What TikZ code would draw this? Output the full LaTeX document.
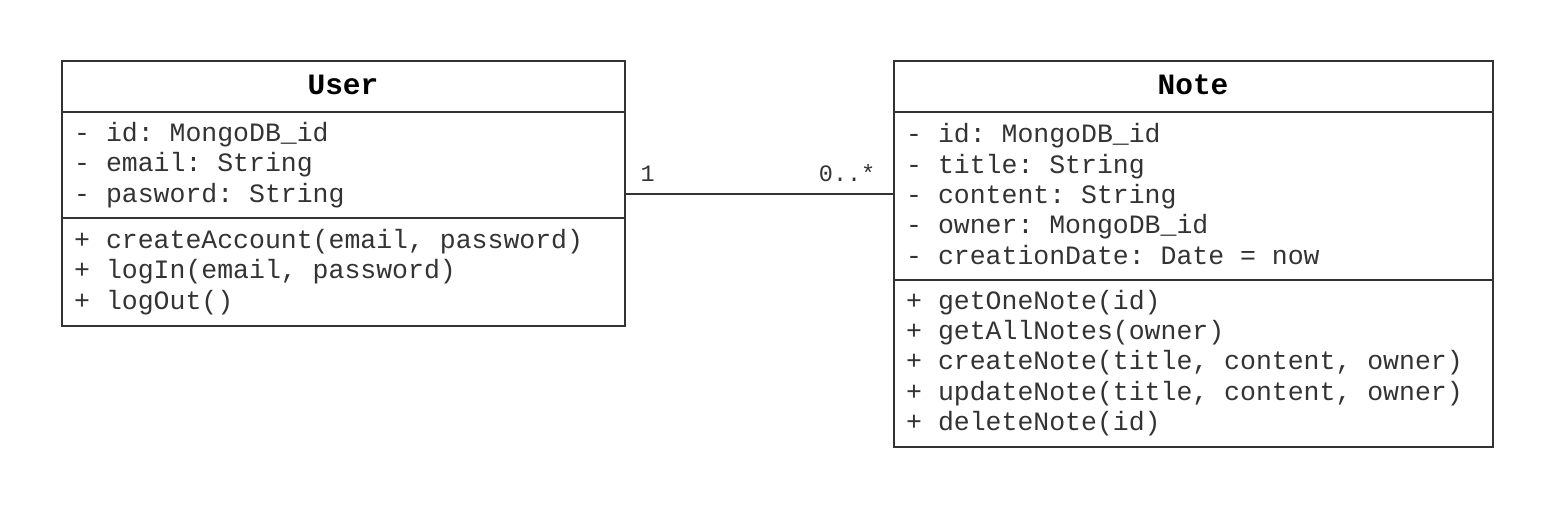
\documentclass[tikz,border=0pt]{standalone}
\usepackage{fontspec}
\setmonofont{Liberation Mono}
\usetikzlibrary{positioning,calc}
\definecolor{ink}{HTML}{333333}
\tikzset{
  comp/.style={draw=ink, line width=2pt, rectangle, anchor=north west, inner sep=0pt},
  title/.style={font=\ttfamily\bfseries\fontsize{29.5}{32}\selectfont, text=black},
  body/.style={font=\ttfamily\fontsize{26.5}{30.3}\selectfont, text=ink, align=left, anchor=west, inner sep=0pt},
  mult/.style={font=\ttfamily\fontsize{23.5}{26}\selectfont, text=ink, inner sep=0pt},
  assoc/.style={draw=ink, line width=2pt}
}
\begin{document}
\begin{tikzpicture}[x=1pt,y=-1pt]
\useasboundingbox (0,0) rectangle (1558,508);
\fill[white] (0,0) rectangle (1558,508);
% User class
\node[comp, minimum width=563pt, minimum height=51pt] (uhead) at (60.5,60.5) {};
\node[comp, minimum width=563pt, minimum height=105pt] (uattr) at (60.5,111.5) {};
\node[comp, minimum width=563pt, minimum height=108pt] (umeth) at (60.5,216.5) {};
\node[title] (utitle) at ([yshift=2.5pt]uhead.center) {User};
\node[body] (uattrtext) at (74,165) {- id: MongoDB\_id\\- email: String\\- pasword: String};
\node[body] (umethtext) at (74,272) {+ createAccount(email, password)\\+ logIn(email, password)\\+ logOut()};
% Note class
\node[comp, minimum width=599pt, minimum height=51pt] (nhead) at (892.5,60.5) {};
\node[comp, minimum width=599pt, minimum height=167pt] (nattr) at (892.5,111.5) {};
\node[comp, minimum width=599pt, minimum height=167pt] (nmeth) at (892.5,278.5) {};
\node[title] (ntitle) at ([yshift=2.5pt]nhead.center) {Note};
\node[body] (nattrtext) at (906,194) {- id: MongoDB\_id\\- title: String\\- content: String\\- owner: MongoDB\_id\\- creationDate: Date = now};
\node[body] (nmethtext) at (906,363) {+ getOneNote(id)\\+ getAllNotes(owner)\\+ createNote(title, content, owner)\\+ updateNote(title, content, owner)\\+ deleteNote(id)};
% Association
\coordinate (uend) at ([yshift=2.5pt]uattr.east |- nattr.west);
\coordinate (nend) at ([yshift=2.5pt]nattr.west);
\draw[assoc] (uend) -- (nend);
\node[mult, anchor=south west] (m1) at ([xshift=15pt,yshift=12pt]uend) {1};
\node[mult, anchor=south east] (m2) at ([xshift=-17pt,yshift=12pt]nend) {0..*};
\end{tikzpicture}
\end{document}
